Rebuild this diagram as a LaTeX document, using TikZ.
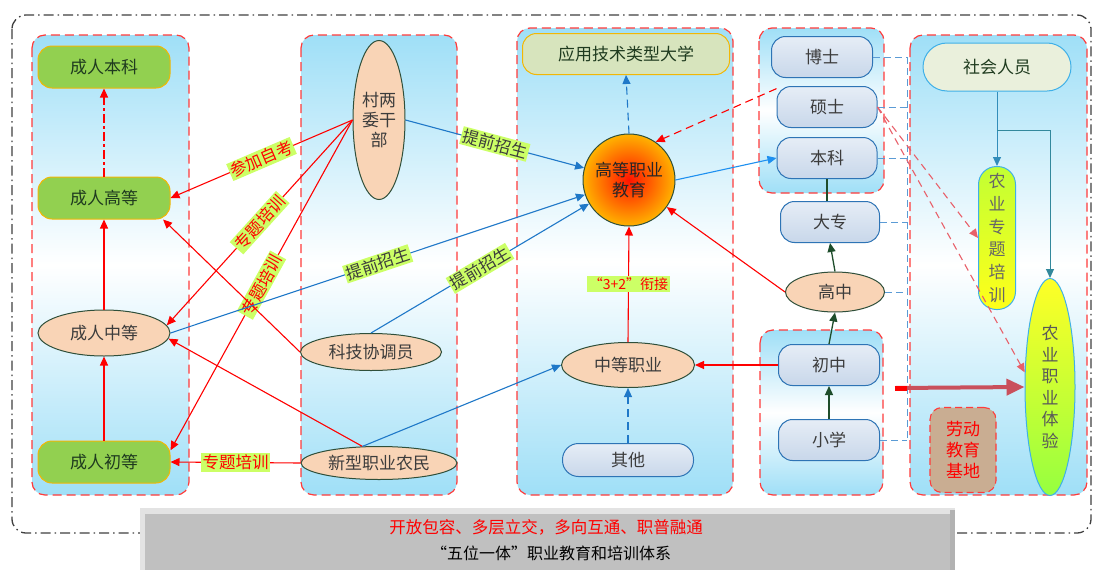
\documentclass[tikz,border=0pt]{standalone}
\usepackage{fontspec}
\setmainfont{Noto Sans CJK SC}
\usetikzlibrary{arrows.meta,shapes.geometric,calc}
\definecolor{pblue}{HTML}{9FDFF7}
\definecolor{pred}{HTML}{FF3B3B}
\definecolor{gold}{HTML}{F2B705}
\definecolor{ggreen}{HTML}{92D050}
\definecolor{dgreen}{HTML}{1F3B1F}
\definecolor{peach}{HTML}{F9D4B6}
\definecolor{dkline}{HTML}{2F4F3A}
\definecolor{tgray}{HTML}{3C3C3C}
\definecolor{bborder}{HTML}{2E74B5}
\definecolor{bbtop}{HTML}{E6EDF6}
\definecolor{bbbot}{HTML}{C8D7EA}
\definecolor{lblue}{HTML}{1F78C8}
\definecolor{sblue}{HTML}{1E90F0}
\definecolor{dblue}{HTML}{5B9BD5}
\definecolor{dkgreen}{HTML}{1E4D2B}
\definecolor{lime}{HTML}{CCFF66}
\definecolor{dred}{HTML}{E8606A}
\definecolor{thickred}{HTML}{C9505C}
\definecolor{yyfill}{HTML}{D7E4BD}
\definecolor{shfill}{HTML}{EAF0DC}
\definecolor{cyanb}{HTML}{3FB0E8}
\definecolor{tan}{HTML}{C9AD92}
\definecolor{boxgray}{HTML}{C0C0C0}
\newcommand\mfs{\fontsize{17}{20}\selectfont}
\newcommand\lfs{\fontsize{16.5}{18}\selectfont}
\begin{document}
\begin{tikzpicture}[x=1pt,y=-1pt,font=\mfs,
  panel/.style={draw=pred, line width=1.2pt, dash pattern=on 9pt off 5pt, rounded corners=13pt, top color=pblue, bottom color=pblue, middle color=white},
  gbox/.style={rectangle, rounded corners=14pt, draw=gold, line width=1pt, fill=ggreen, minimum width=132pt, minimum height=42pt, inner sep=0pt, text=dgreen},
  pel/.style={ellipse, draw=dkline, line width=1pt, fill=peach, inner sep=0pt, text=tgray},
  bbox/.style={rectangle, rounded corners=14pt, draw=bborder, line width=1pt, top color=bbtop, bottom color=bbbot, minimum width=101pt, minimum height=41pt, inner sep=0pt, text=tgray},
  rarr/.style={draw=red, line width=1.1pt, -{Triangle[length=9pt,width=8pt]}},
  barr/.style={draw=lblue, line width=1.1pt, -{Triangle[length=9pt,width=8pt]}},
  garr/.style={draw=dkgreen, line width=1.3pt, -{Triangle[length=9pt,width=8pt]}},
  lblr/.style={fill=lime, text=red, inner sep=1.5pt, font=\lfs},
  lblb/.style={fill=lime, text=tgray, inner sep=1.5pt, font=\lfs},
  bdash/.style={draw=dblue, line width=1pt, dash pattern=on 7pt off 4pt},
  sarr/.style={draw=cyanb!80!black, line width=1pt, -{Triangle[length=9pt,width=8pt]}}
]
\useasboundingbox (0,0) rectangle (1097,570);
\fill[white] (0,0) rectangle (1097,570);
% outer frame
\draw[draw=black!75, line width=1.3pt, dash pattern=on 10pt off 4pt on 1.5pt off 4pt, rounded corners=14pt] (12,15) rectangle (1091,533);
% panels
\path[panel] (32,35) rectangle (189,495);
\path[panel] (301,35) rectangle (457,495);
\path[panel] (517,28) rectangle (733,495);
\path[panel] (759,28) rectangle (884,193);
\path[panel] (760,330) rectangle (883,495);
\path[panel] (910,35) rectangle (1087,495);
% bottom box
\fill[gray!22] (140,508) rectangle (955,570);
\fill[gray!60] (950,510) rectangle (955,570);
\fill[boxgray] (145,514) rectangle (950,570);
\node[text=red, font=\fontsize{16.5}{18}\selectfont] (t1) at (546,527) {开放包容、多层立交，多向互通、职普融通};
\node[text=black, font=\fontsize{16}{18}\selectfont] (t2) at (551,553) {“五位一体”职业教育和培训体系};
% left column nodes
\node[gbox] (crbk) at (104,67) {成人本科};
\node[gbox] (crgd) at (104,198) {成人高等};
\node[pel, minimum width=132pt, minimum height=46pt] (czd) at (104,333) {成人中等};
\node[gbox] (crcd) at (104,462) {成人初等};
% second column
\node[pel, minimum width=52pt, minimum height=159pt, align=center] (cw) at (379,120) {村两\\委干\\部};
\node[pel, minimum width=141pt, minimum height=37pt] (kj) at (371,352) {科技协调员};
\node[pel, minimum width=156pt, minimum height=33pt] (xx) at (379,463) {新型职业农民};
% third column
\node[rectangle, rounded corners=14pt, draw=gold, line width=1pt, fill=yyfill, minimum width=207pt, minimum height=41pt, inner sep=0pt, text=dgreen] (yyjs) at (626,54) {应用技术类型大学};
\node[circle, minimum size=92pt, inner sep=0pt, draw=dkline, line width=1pt, inner color=red!85!orange, outer color=orange!60!yellow, align=center, text=black!85] (gd) at (629,180) {高等职业\\教育};
\node[pel, minimum width=133pt, minimum height=45pt] (zdzy) at (628,365) {中等职业};
\node[bbox, rounded corners=16pt, minimum width=131pt, minimum height=33pt] (qt) at (628,460) {其他};
% fourth column
\node[bbox] (bs) at (822,57) {博士};
\node[bbox, minimum width=100pt] (ss) at (827,107) {硕士};
\node[bbox, minimum width=100pt] (bk) at (827,158) {本科};
\node[bbox, minimum width=99pt] (dz) at (830,222) {大专};
\node[pel, minimum width=99pt, minimum height=40pt] (gz) at (835,292) {高中};
\node[bbox] (cz) at (829,365) {初中};
\node[bbox] (xiao) at (829,440) {小学};
% fifth column
\node[rectangle, rounded corners=24pt, draw=cyanb, line width=1pt, fill=shfill, minimum width=148pt, minimum height=48pt, inner sep=0pt, text=dgreen] (shry) at (997,67) {社会人员};
\node[rectangle, rounded corners=18pt, draw=cyanb, line width=1pt, top color=yellow!70!green!80, bottom color=yellow!90!white, minimum width=37pt, minimum height=143pt, inner sep=0pt, align=center, text=gray!80!black, font=\fontsize{17}{22.7}\selectfont] (nyzt) at (997,238) {农\\业\\专\\题\\培\\训};
\node[ellipse, draw=cyanb, line width=1pt, top color=yellow!85!white, bottom color=green!55!yellow!75, minimum width=50pt, minimum height=217pt, inner sep=0pt, align=center, text=gray!70!black, font=\fontsize{17}{21.5}\selectfont] (nytj) at (1050,387) {农\\业\\职\\业\\体\\验};
\node[rectangle, rounded corners=12pt, draw=pred, line width=1.1pt, dash pattern=on 7pt off 4pt, fill=tan, minimum width=66pt, minimum height=85pt, inner sep=0pt, align=center, text=red, font=\fontsize{17}{21}\selectfont] (ldjy) at (963,450) {劳动\\教育\\基地};
% left column edges
\draw[rarr, dash pattern=on 9pt off 3pt on 3pt off 3pt] (crgd.north) -- (crbk.south);
\draw[rarr] (czd.north) -- (crgd.south);
\draw[rarr] (crcd.north) -- (czd.south);
% from cw
\draw[rarr] (cw.west) -- node[lblr, sloped] {参加自考} (crgd.east);
\draw[rarr] (cw.west) -- node[lblr, sloped] {专题培训} (czd.7);
\draw[rarr] (cw.west) -- node[lblr, sloped] {专题培训} (crcd.10);
\draw[rarr] (kj.west) -- (crgd.-20);
\draw[rarr] (xx.135) -- (czd.-5);
\draw[rarr] (xx.west) -- node[lblr] {专题培训} (crcd.east);
\draw[barr] (xx.135) -- (zdzy.west);
\draw[barr] (czd.east) -- node[lblb, sloped] {提前招生} (gd);
\draw[barr] (cw.east) -- node[lblb, sloped] {提前招生} (gd);
\draw[barr] (kj.north) -- node[lblb, sloped] {提前招生} (gd);
% middle column
\draw[rarr] (zdzy.north) -- node[fill=lime, text=red, inner sep=1.5pt, font=\fontsize{14}{16}\selectfont] {“3+2”衔接} (gd.south);
\draw[barr, dash pattern=on 8pt off 5pt] (qt.north) -- (zdzy.south);
\draw[barr, dash pattern=on 8pt off 5pt] (gd.north) -- (yyjs.south);
\draw[rarr] (cz.west) -- (zdzy.east);
\draw[rarr] (gz.west) -- (gd);
\draw[barr, draw=sblue] (gd.east) -- (bk.west);
\draw[rarr, dash pattern=on 8pt off 5pt] (ss.160) -- (gd.55);
% right ladder
\draw[garr] (xiao.north) -- (cz.south);
\draw[garr] (cz.north) -- (gz.south);
\draw[garr] (gz.north) -- (dz.south);
\draw[draw=dkgreen, line width=1.1pt] (bk.south) -- (bk.south |- dz.north);
% blue dashed connector
\coordinate (vt) at (907,57);
\coordinate (vb) at (907,440);
\draw[bdash] (vt) -- (vb);
\draw[bdash] (bs.east) -- (bs.east -| vt);
\draw[bdash] (ss.east) -- (ss.east -| vt);
\draw[bdash] (bk.east) -- (bk.east -| vt);
\draw[bdash] (dz.east) -- (dz.east -| vt);
\draw[bdash] (gz.east) -- (gz.east -| vt);
\draw[bdash] (xiao.east) -- (xiao.east -| vt);
% right panel
\draw[sarr] (shry.south) -- (nyzt.north);
\coordinate (br) at (997,130);
\draw[sarr, draw=cyanb!60!dkgreen] (br) -- (br -| nytj.north) -- (nytj.north);
\draw[draw=dred, line width=1.1pt, dash pattern=on 7pt off 5pt, -{Triangle[length=9pt,width=8pt]}] (ss.east) -- (nyzt.west);
\draw[draw=dred, line width=1.1pt, dash pattern=on 7pt off 5pt, -{Triangle[length=9pt,width=8pt]}] (ss.east) -- (nytj.150);
\coordinate (ts) at (895,388);
\draw[draw=thickred, line width=4pt, -{Triangle[length=18pt,width=16pt]}] (ts) -- (nytj.west);
\draw[draw=red, line width=5pt] (ts) -- ++(12,0);
\end{tikzpicture}
\end{document}
